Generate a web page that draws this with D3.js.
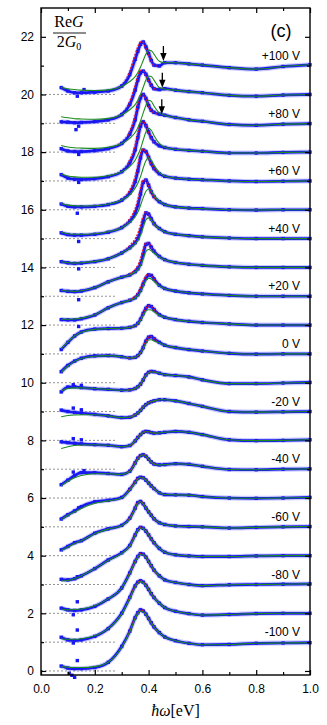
<!DOCTYPE html>
<html>
<head>
<meta charset="utf-8">
<script src="https://cdn.jsdelivr.net/npm/d3@7"></script>
<style>
  body { margin: 0; background: #fff; }
  svg { display: block; }
  .tick text { font-family: "Liberation Sans", Arial, sans-serif; font-size: 12px; fill: #000; }
  .tick line, .domain { stroke: #000; }
</style>
</head>
<body>
<div id="chart"></div>
<script>
const width = 327, height = 725;
const plotLeft = 41, plotRight = 310, plotTop = 8, plotBottom = 675;

const energies = [0.075, 0.1, 0.125, 0.15, 0.2, 0.25, 0.3, 0.33, 0.35, 0.36, 0.37, 0.38, 0.39,
                  0.40, 0.41, 0.42, 0.44, 0.46, 0.5, 0.55, 0.6, 0.7, 0.8, 0.9, 1.0];
// gate voltage of each curve, bottom to top; curve i is shifted up by i
const voltages = [-100, -90, -80, -70, -60, -50, -40, -30, -20, -10, 0,
                  10, 20, 30, 40, 50, 60, 70, 80, 90, 100];
const labelVoltages = [-100, -80, -60, -40, -20, 0, 20, 40, 60, 80, 100];
const yTicks = [0, 2, 4, 6, 8, 10, 12, 14, 16, 18, 20, 22];
const xTicks = [0.0, 0.2, 0.4, 0.6, 0.8, 1.0];

// measured ReG/2G0 (blue squares), before the offset
const measured = [
  [0.17,0.10,0.08,0.08,0.12,0.30,0.85,1.38,1.85,2.02,2.12,2.08,1.97,1.82,1.67,1.53,1.33,1.18,1.05,0.96,0.91,0.92,0.96,0.97,0.98],
  [0.17,0.08,0.06,0.08,0.20,0.47,1.00,1.55,1.95,2.08,2.13,2.08,1.97,1.83,1.68,1.55,1.35,1.20,1.07,0.99,0.94,0.96,0.99,1.00,1.00],
  [0.18,0.12,0.10,0.12,0.24,0.50,0.88,1.40,1.80,1.97,2.07,2.05,1.95,1.80,1.65,1.50,1.30,1.16,1.07,1.00,0.96,0.99,1.00,1.01,1.02],
  [0.18,0.16,0.20,0.30,0.55,0.85,1.10,1.35,1.72,1.90,1.98,1.95,1.85,1.72,1.58,1.45,1.25,1.12,1.03,0.99,0.97,0.97,0.99,1.00,1.00],
  [0.20,0.32,0.45,0.52,0.78,0.93,1.05,1.30,1.65,1.84,1.88,1.80,1.65,1.52,1.40,1.28,1.14,1.08,1.03,1.01,1.00,0.96,0.98,1.00,1.01],
  [0.27,0.42,0.55,0.70,0.87,0.92,1.02,1.30,1.55,1.68,1.72,1.70,1.62,1.52,1.42,1.33,1.18,1.12,1.11,1.10,1.05,1.00,0.99,1.00,1.02],
  [0.46,0.62,0.78,0.88,0.88,0.85,0.82,0.93,1.22,1.38,1.47,1.50,1.45,1.35,1.25,1.18,1.15,1.16,1.19,1.17,1.10,0.99,0.98,1.00,1.01],
  [0.95,0.92,0.90,0.88,0.85,0.83,0.78,0.82,0.98,1.10,1.20,1.28,1.31,1.30,1.27,1.25,1.26,1.28,1.31,1.28,1.20,1.02,0.99,1.00,1.02],
  [1.05,1.00,0.97,0.95,0.90,0.85,0.79,0.80,0.88,0.95,1.04,1.15,1.24,1.30,1.34,1.37,1.41,1.41,1.37,1.28,1.18,1.00,0.98,0.99,1.00],
  [0.68,0.85,0.86,0.83,0.79,0.77,0.74,0.75,0.80,0.86,0.95,1.10,1.27,1.36,1.39,1.38,1.33,1.28,1.25,1.20,1.10,0.97,0.97,0.99,1.01],
  [0.38,0.60,0.75,0.85,0.93,0.94,0.90,0.86,0.88,0.94,1.05,1.22,1.44,1.58,1.60,1.53,1.40,1.30,1.22,1.15,1.10,1.02,0.99,1.00,1.00],
  [0.15,0.40,0.62,0.76,0.86,0.88,0.89,0.92,0.98,1.06,1.20,1.40,1.58,1.67,1.64,1.54,1.36,1.27,1.19,1.13,1.09,1.04,1.00,1.00,1.00],
  [0.19,0.18,0.18,0.22,0.35,0.60,0.78,0.86,0.95,1.05,1.20,1.42,1.62,1.74,1.72,1.60,1.38,1.27,1.18,1.12,1.08,1.03,1.00,1.00,1.00],
  [0.20,0.17,0.16,0.18,0.30,0.50,0.66,0.74,0.85,0.95,1.12,1.45,1.80,1.83,1.70,1.56,1.38,1.27,1.17,1.11,1.07,1.02,1.00,1.00,1.00],
  [0.20,0.16,0.14,0.15,0.20,0.30,0.50,0.68,0.86,1.00,1.25,1.60,1.89,1.85,1.68,1.52,1.35,1.24,1.15,1.10,1.06,1.02,1.00,1.00,1.00],
  [0.20,0.14,0.12,0.12,0.15,0.22,0.38,0.60,0.88,1.15,1.55,1.95,2.03,1.85,1.62,1.46,1.28,1.18,1.10,1.06,1.04,1.00,0.99,1.00,1.00],
  [0.20,0.12,0.10,0.10,0.12,0.18,0.33,0.58,0.98,1.35,1.80,2.07,2.02,1.82,1.60,1.43,1.25,1.16,1.10,1.06,1.04,1.00,0.98,0.99,1.00],
  [0.22,0.10,0.06,0.05,0.08,0.15,0.32,0.62,1.08,1.50,1.90,2.05,1.92,1.70,1.50,1.36,1.22,1.16,1.10,1.06,1.03,0.97,0.97,0.99,1.00],
  [0.12,0.04,0.02,0.02,0.05,0.12,0.30,0.62,1.12,1.55,1.88,2.00,1.86,1.62,1.45,1.38,1.32,1.28,1.20,1.12,1.07,0.96,0.93,0.97,0.99],
  [0.05,0.04,0.02,0.03,0.06,0.12,0.30,0.65,1.15,1.50,1.75,1.81,1.70,1.50,1.32,1.20,1.17,1.20,1.15,1.10,1.06,0.97,0.94,0.98,1.00],
  [0.24,0.12,0.06,0.06,0.08,0.12,0.29,0.69,1.22,1.50,1.74,1.82,1.65,1.42,1.18,1.02,0.99,1.10,1.10,1.06,1.02,0.93,0.88,0.97,1.03]
];

// green fit
const greenFit = [
  [0.15,0.13,0.12,0.12,0.15,0.30,0.82,1.36,1.82,2.00,2.08,2.05,1.96,1.82,1.67,1.53,1.33,1.18,1.05,0.96,0.91,0.92,0.96,0.97,0.98],
  [0.12,0.10,0.10,0.12,0.22,0.47,0.98,1.52,1.92,2.05,2.10,2.06,1.96,1.83,1.68,1.55,1.35,1.20,1.07,0.99,0.94,0.96,0.99,1.00,1.00],
  [0.15,0.12,0.13,0.15,0.26,0.50,0.88,1.38,1.78,1.95,2.04,2.03,1.94,1.80,1.65,1.50,1.30,1.16,1.07,1.00,0.96,0.99,1.00,1.01,1.02],
  [0.12,0.14,0.20,0.30,0.55,0.83,1.08,1.33,1.70,1.88,1.96,1.94,1.85,1.72,1.58,1.45,1.25,1.12,1.03,0.99,0.97,0.97,0.99,1.00,1.00],
  [0.18,0.30,0.42,0.52,0.76,0.92,1.04,1.28,1.63,1.82,1.87,1.80,1.66,1.52,1.40,1.28,1.14,1.08,1.03,1.01,1.00,0.96,0.98,1.00,1.01],
  [0.25,0.40,0.52,0.64,0.82,0.90,1.00,1.28,1.53,1.66,1.71,1.69,1.62,1.52,1.42,1.33,1.18,1.12,1.11,1.10,1.05,1.00,0.99,1.00,1.02],
  [0.42,0.58,0.70,0.78,0.84,0.84,0.82,0.92,1.20,1.36,1.46,1.49,1.45,1.35,1.25,1.18,1.15,1.16,1.19,1.17,1.10,0.99,0.98,1.00,1.01],
  [0.72,0.78,0.82,0.84,0.85,0.83,0.78,0.82,0.98,1.10,1.20,1.28,1.30,1.30,1.27,1.25,1.26,1.28,1.31,1.28,1.20,1.02,0.99,1.00,1.02],
  [0.82,0.86,0.88,0.89,0.89,0.85,0.79,0.80,0.88,0.95,1.04,1.15,1.24,1.30,1.34,1.37,1.41,1.41,1.37,1.28,1.18,1.00,0.98,0.99,1.00],
  [0.72,0.80,0.82,0.82,0.80,0.77,0.74,0.75,0.80,0.86,0.95,1.10,1.26,1.34,1.37,1.37,1.33,1.28,1.25,1.20,1.10,0.97,0.97,0.99,1.01],
  [0.36,0.58,0.74,0.84,0.92,0.94,0.90,0.86,0.88,0.94,1.04,1.18,1.36,1.48,1.49,1.45,1.38,1.30,1.22,1.15,1.10,1.02,0.99,1.00,1.00],
  [0.18,0.42,0.62,0.75,0.85,0.88,0.89,0.92,0.98,1.05,1.16,1.32,1.48,1.53,1.52,1.46,1.34,1.27,1.19,1.13,1.09,1.04,1.00,1.00,1.00],
  [0.20,0.20,0.21,0.24,0.36,0.60,0.78,0.86,0.94,1.02,1.15,1.35,1.55,1.63,1.60,1.52,1.36,1.27,1.18,1.12,1.08,1.03,1.00,1.00,1.00],
  [0.20,0.18,0.17,0.19,0.30,0.50,0.66,0.74,0.84,0.92,1.06,1.30,1.55,1.62,1.58,1.50,1.36,1.27,1.17,1.11,1.07,1.02,1.00,1.00,1.00],
  [0.20,0.17,0.15,0.16,0.21,0.30,0.50,0.66,0.82,0.94,1.12,1.40,1.65,1.72,1.64,1.50,1.34,1.24,1.15,1.10,1.06,1.02,1.00,1.00,1.00],
  [0.22,0.17,0.15,0.15,0.17,0.24,0.38,0.56,0.76,0.92,1.15,1.42,1.64,1.72,1.66,1.50,1.30,1.18,1.10,1.06,1.04,1.00,0.99,1.00,1.00],
  [0.22,0.16,0.14,0.13,0.14,0.20,0.34,0.52,0.75,0.92,1.15,1.45,1.70,1.80,1.72,1.55,1.30,1.17,1.10,1.06,1.04,1.00,0.98,0.99,1.00],
  [0.23,0.17,0.14,0.13,0.13,0.18,0.32,0.50,0.72,0.90,1.12,1.42,1.70,1.83,1.76,1.58,1.30,1.17,1.10,1.06,1.03,0.97,0.97,0.99,1.00],
  [0.23,0.18,0.15,0.14,0.13,0.17,0.30,0.48,0.68,0.85,1.08,1.36,1.62,1.80,1.76,1.60,1.36,1.28,1.20,1.12,1.07,0.96,0.93,0.97,0.99],
  [0.23,0.19,0.16,0.15,0.14,0.17,0.30,0.47,0.65,0.80,1.00,1.25,1.50,1.64,1.62,1.50,1.24,1.19,1.15,1.10,1.06,0.97,0.94,0.98,1.00],
  [0.24,0.20,0.17,0.15,0.14,0.16,0.28,0.45,0.62,0.76,0.95,1.18,1.40,1.54,1.52,1.40,1.15,1.10,1.10,1.06,1.02,0.93,0.88,0.97,1.03]
];

// red fit: matches the data for the lower curves, rises a little earlier for the upper ones
const redUpper = [
  [0.19,0.18,0.18,0.22,0.36,0.61,0.79,0.88,0.99,1.12,1.30,1.52,1.70,1.76,1.70,1.58,1.37,1.27,1.18,1.12,1.08,1.03,1.00,1.00,1.00],
  [0.20,0.17,0.16,0.18,0.31,0.51,0.68,0.78,0.92,1.06,1.28,1.62,1.86,1.84,1.68,1.54,1.37,1.27,1.17,1.11,1.07,1.02,1.00,1.00,1.00],
  [0.20,0.16,0.14,0.15,0.21,0.32,0.54,0.75,0.98,1.16,1.45,1.76,1.93,1.84,1.66,1.50,1.34,1.24,1.15,1.10,1.06,1.02,1.00,1.00,1.00],
  [0.20,0.14,0.12,0.12,0.16,0.24,0.42,0.68,1.02,1.32,1.72,2.02,2.02,1.83,1.60,1.45,1.28,1.18,1.10,1.06,1.04,1.00,0.99,1.00,1.00],
  [0.20,0.12,0.10,0.10,0.13,0.20,0.38,0.68,1.12,1.52,1.94,2.10,2.00,1.80,1.58,1.42,1.25,1.16,1.10,1.06,1.04,1.00,0.98,0.99,1.00],
  [0.22,0.10,0.07,0.06,0.09,0.17,0.37,0.72,1.22,1.66,2.00,2.06,1.90,1.68,1.48,1.35,1.22,1.16,1.10,1.06,1.03,0.97,0.97,0.99,1.00],
  [0.12,0.05,0.03,0.03,0.06,0.14,0.35,0.72,1.26,1.70,1.96,2.00,1.82,1.60,1.44,1.37,1.32,1.28,1.20,1.12,1.07,0.96,0.93,0.97,0.99],
  [0.08,0.05,0.03,0.04,0.07,0.14,0.35,0.75,1.30,1.64,1.83,1.82,1.66,1.47,1.30,1.20,1.17,1.20,1.15,1.10,1.06,0.97,0.94,0.98,1.00],
  [0.24,0.13,0.07,0.07,0.09,0.14,0.34,0.80,1.36,1.64,1.82,1.80,1.60,1.38,1.16,1.02,0.99,1.10,1.10,1.06,1.02,0.93,0.88,0.97,1.03]
];
const redFit = measured.slice(0, 12).concat(redUpper);

// stray data points at low energy: [curve index, energy, value]
const strayPoints = [
  [0, 0.135, 0.36], [0, 0.105, -0.08], [0, 0.115, -0.15], [0, 0.125, -0.22],
  [1, 0.135, 0.42], [1, 0.12, -0.03], [2, 0.135, 0.40], [2, 0.12, -0.05],
  [3, 0.135, 0.27], [5, 0.14, 0.66], [6, 0.12, 0.90], [6, 0.16, 0.95],
  [7, 0.12, 1.06], [7, 0.15, 1.02], [8, 0.12, 1.12], [8, 0.15, 1.06],
  [9, 0.12, 0.93], [9, 0.15, 0.91], [12, 0.14, -0.05], [13, 0.14, -0.12],
  [14, 0.14, -0.05], [15, 0.14, -0.1], [16, 0.135, -0.12], [17, 0.14, -0.05],
  [18, 0.14, -0.08], [19, 0.13, -0.22], [19, 0.14, -0.1], [20, 0.135, -0.06], [20, 0.16, 0.17]
];

// arrows over the high-energy shoulder: curve index, energy, value at the tip
const arrowCurves = [18, 19, 20];
const arrowEnergies = [0.449, 0.451, 0.455];
const arrowTips = [1.31, 1.23, 1.16];

const x = d3.scaleLinear().domain([0, 1]).range([plotLeft, plotRight]);
const y = d3.scaleLinear().domain([-0.14, 23.0]).range([plotBottom, plotTop]);

const svg = d3.select("#chart").append("svg")
    .attr("width", width)
    .attr("height", height);
svg.append("rect").attr("width", width).attr("height", height).attr("fill", "#fff");

const defs = svg.append("defs");
defs.append("clipPath").attr("id", "edge-clip")
    .append("rect")
    .attr("x", x(0.32)).attr("y", plotTop)
    .attr("width", x(0.43) - x(0.32)).attr("height", plotBottom - plotTop);

const plot = svg.append("g");

// dashed zero lines of each curve
plot.append("g")
    .selectAll("line")
    .data(voltages)
    .join("line")
    .attr("x1", x(0))
    .attr("x2", x(0.275))
    .attr("y1", (d, i) => y(i))
    .attr("y2", (d, i) => y(i))
    .attr("stroke", "#777")
    .attr("stroke-width", 0.8)
    .attr("stroke-dasharray", "2,2");

function curvePath(values, idx) {
    const line = d3.line()
        .x((d, j) => x(energies[j]))
        .y(d => y(d + idx))
        .curve(d3.curveMonotoneX);
    return line(values);
}

function drawRed(g) {
    g.selectAll("path")
        .data(redFit)
        .join("path")
        .attr("d", (d, i) => curvePath(d, i))
        .attr("fill", "none")
        .attr("stroke", "#ff1010")
        .attr("stroke-width", 1.6)
        .attr("stroke-dasharray", "1.6,1.8");
}

plot.append("g").call(drawRed);

// blue halo + body
plot.append("g")
    .selectAll("path")
    .data(measured)
    .join("path")
    .attr("d", (d, i) => curvePath(d, i))
    .attr("fill", "none")
    .attr("stroke", "#8c8cff")
    .attr("stroke-opacity", 0.45)
    .attr("stroke-width", 5);

plot.append("g")
    .selectAll("path")
    .data(measured)
    .join("path")
    .attr("d", (d, i) => curvePath(d, i))
    .attr("fill", "none")
    .attr("stroke", "#1818f2")
    .attr("stroke-width", 2.7);

const squares = [];
measured.forEach((vals, i) => vals.forEach((v, j) => squares.push({e: energies[j], v: v + i})));
strayPoints.forEach(p => squares.push({e: p[1], v: p[2] + p[0]}));
plot.append("g")
    .attr("fill", "#1818f2")
    .selectAll("rect")
    .data(squares)
    .join("rect")
    .attr("x", d => x(d.e) - 1.7)
    .attr("y", d => y(d.v) - 1.7)
    .attr("width", 3.4)
    .attr("height", 3.4);

// red dots that show through on the steep edges
plot.append("g").attr("clip-path", "url(#edge-clip)").attr("opacity", 0.85).call(drawRed);

plot.append("g")
    .selectAll("path")
    .data(greenFit)
    .join("path")
    .attr("d", (d, i) => curvePath(d, i))
    .attr("fill", "none")
    .attr("stroke", "#1c8c1c")
    .attr("stroke-width", 1.1);

// arrows
const arrows = plot.append("g");
arrowCurves.forEach((c, k) => {
    const ax = x(arrowEnergies[k]);
    const tip = y(arrowTips[k] + c);
    arrows.append("line")
        .attr("x1", ax).attr("x2", ax)
        .attr("y1", tip - 15).attr("y2", tip - 6)
        .attr("stroke", "#000").attr("stroke-width", 1.3);
    arrows.append("path")
        .attr("d", `M${ax - 3.2},${tip - 8} L${ax + 3.2},${tip - 8} L${ax},${tip} Z`)
        .attr("fill", "#000");
});

// voltage labels
plot.append("g")
    .selectAll("text")
    .data(labelVoltages)
    .join("text")
    .attr("x", x(0.963))
    .attr("y", d => y(voltages.indexOf(d) + 1.2))
    .attr("text-anchor", "end")
    .attr("font-family", "Liberation Sans, Arial, sans-serif")
    .attr("font-size", 12)
    .text(d => (d > 0 ? "+" + d : d) + " V");

// axes, ticks point inwards
const minorX = d3.range(0.1, 1.0, 0.2);
const minorY = d3.range(1, 23, 2);

svg.append("g")
    .attr("transform", `translate(0,${plotBottom})`)
    .call(d3.axisBottom(x).tickValues(xTicks).tickFormat(d3.format(".1f"))
        .tickSizeInner(-5).tickSizeOuter(0).tickPadding(9))
    .call(g => g.select(".domain").remove());
svg.append("g")
    .attr("transform", `translate(0,${plotBottom})`)
    .call(d3.axisBottom(x).tickValues(minorX).tickFormat("").tickSizeInner(-3).tickSizeOuter(0))
    .call(g => g.select(".domain").remove());
svg.append("g")
    .attr("transform", `translate(0,${plotTop})`)
    .call(d3.axisTop(x).tickValues(xTicks).tickFormat("").tickSizeInner(-5).tickSizeOuter(0))
    .call(g => g.select(".domain").remove());
svg.append("g")
    .attr("transform", `translate(0,${plotTop})`)
    .call(d3.axisTop(x).tickValues(minorX).tickFormat("").tickSizeInner(-3).tickSizeOuter(0))
    .call(g => g.select(".domain").remove());

svg.append("g")
    .attr("transform", `translate(${plotLeft},0)`)
    .call(d3.axisLeft(y).tickValues(yTicks).tickFormat(d3.format("d"))
        .tickSizeInner(-5).tickSizeOuter(0).tickPadding(7))
    .call(g => g.select(".domain").remove());
svg.append("g")
    .attr("transform", `translate(${plotLeft},0)`)
    .call(d3.axisLeft(y).tickValues(minorY).tickFormat("").tickSizeInner(-3).tickSizeOuter(0))
    .call(g => g.select(".domain").remove());
svg.append("g")
    .attr("transform", `translate(${plotRight},0)`)
    .call(d3.axisRight(y).tickValues(yTicks).tickFormat("").tickSizeInner(-5).tickSizeOuter(0))
    .call(g => g.select(".domain").remove());
svg.append("g")
    .attr("transform", `translate(${plotRight},0)`)
    .call(d3.axisRight(y).tickValues(minorY).tickFormat("").tickSizeInner(-3).tickSizeOuter(0))
    .call(g => g.select(".domain").remove());

svg.selectAll(".tick line").attr("stroke-width", 1.2);

svg.append("rect")
    .attr("x", plotLeft).attr("y", plotTop)
    .attr("width", plotRight - plotLeft).attr("height", plotBottom - plotTop)
    .attr("fill", "none").attr("stroke", "#000").attr("stroke-width", 1.4);

// y label as a fraction
const serif = "Liberation Serif, Times New Roman, serif";
const frac = svg.append("g").attr("font-family", serif).attr("font-size", 16);
const num = frac.append("text").attr("x", 69).attr("y", 27).attr("text-anchor", "middle");
num.append("tspan").text("Re");
num.append("tspan").attr("font-style", "italic").text("G");
frac.append("line").attr("x1", 53).attr("x2", 86).attr("y1", 33).attr("y2", 33)
    .attr("stroke", "#000").attr("stroke-width", 0.9);
const den = frac.append("text").attr("x", 69).attr("y", 47).attr("text-anchor", "middle");
den.append("tspan").text("2");
den.append("tspan").attr("font-style", "italic").text("G");
den.append("tspan").attr("font-size", 10).attr("dy", 3).text("0");

svg.append("text")
    .attr("x", 281).attr("y", 37)
    .attr("text-anchor", "middle")
    .attr("font-family", "Liberation Sans, Arial, sans-serif")
    .attr("font-size", 18)
    .text("(c)");

const xt = svg.append("text")
    .attr("x", x(0.5)).attr("y", 716)
    .attr("text-anchor", "middle")
    .attr("font-family", serif)
    .attr("font-size", 16);
xt.append("tspan").attr("font-style", "italic").text("ħω");
xt.append("tspan").text("[eV]");
</script>
</body>
</html>
